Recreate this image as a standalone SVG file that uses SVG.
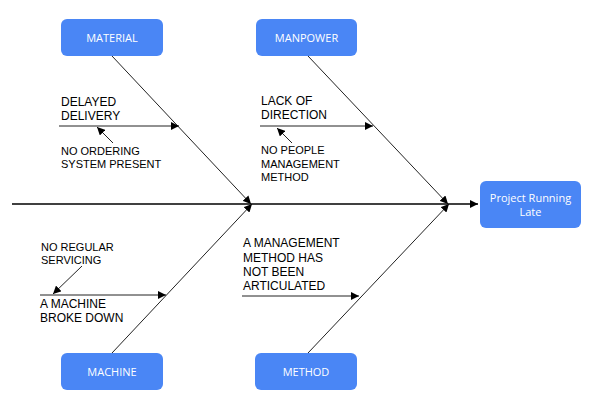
<svg xmlns="http://www.w3.org/2000/svg" width="596" height="411" viewBox="0 0 596 411">
<style>
.box{fill:#4a86f5;}
.bt{font-family:"Open Sans","Liberation Sans",sans-serif;font-size:11px;fill:#fff;text-anchor:middle;}
.t{font-family:"Liberation Sans",Arial,sans-serif;font-size:12px;fill:#000;}
.s{font-family:"Liberation Sans",Arial,sans-serif;font-size:11px;fill:#000;}
.ln{stroke:#222;stroke-width:1;fill:none;}
.sp{stroke:#000;stroke-width:1.3;fill:none;}
</style>
<defs>
<marker id="ah" viewBox="0 0 10 10" refX="10" refY="5" markerWidth="8" markerHeight="8" markerUnits="userSpaceOnUse" orient="auto">
<path d="M0,0 L10,5 L0,10 z" fill="#000"/>
</marker>
</defs>
<rect width="596" height="411" fill="#fff"/>
<g id="connectors">
<line class="sp" x1="12" y1="204" x2="478" y2="204" marker-end="url(#ah)"/>
<line class="ln" x1="112" y1="56" x2="251" y2="204" marker-end="url(#ah)"/>
<line class="ln" x1="308" y1="56" x2="448" y2="204" marker-end="url(#ah)"/>
<line class="ln" x1="112" y1="353" x2="252" y2="204" marker-end="url(#ah)"/>
<line class="ln" x1="308" y1="353" x2="449" y2="204" marker-end="url(#ah)"/>
<line class="ln" x1="59" y1="126" x2="179" y2="126" marker-end="url(#ah)"/>
<line class="ln" x1="113" y1="143" x2="97" y2="127" marker-end="url(#ah)"/>
<line class="ln" x1="260" y1="126" x2="373" y2="126" marker-end="url(#ah)"/>
<line class="ln" x1="292" y1="143" x2="277" y2="128" marker-end="url(#ah)"/>
<line class="ln" x1="40" y1="295" x2="166" y2="295" marker-end="url(#ah)"/>
<line class="ln" x1="82" y1="266" x2="53" y2="294" marker-end="url(#ah)"/>
<line class="ln" x1="242" y1="296" x2="359" y2="296" marker-end="url(#ah)"/>
</g>
<g id="material"><rect class="box" x="61" y="19" width="102" height="37" rx="6"/><text class="bt" x="112" y="42">MATERIAL</text></g>
<g id="manpower"><rect class="box" x="256" y="19" width="101" height="37" rx="6"/><text class="bt" x="306.5" y="42">MANPOWER</text></g>
<g id="machine"><rect class="box" x="61" y="353" width="102" height="37" rx="6"/><text class="bt" x="112" y="376">MACHINE</text></g>
<g id="method"><rect class="box" x="255" y="353" width="102" height="37" rx="6"/><text class="bt" x="306" y="376">METHOD</text></g>
<g id="effect"><rect class="box" x="480" y="181" width="101" height="47" rx="6"/><text class="bt" x="530.5" y="202">Project Running</text><text class="bt" x="530.5" y="216">Late</text></g>
<g id="labels">
<text class="t" x="61" y="106">DELAYED</text>
<text class="t" x="61" y="120">DELIVERY</text>
<text class="s" x="61" y="155">NO ORDERING</text>
<text class="s" x="61" y="168">SYSTEM PRESENT</text>
<text class="t" x="261" y="105">LACK OF</text>
<text class="t" x="261" y="119">DIRECTION</text>
<text class="s" x="261" y="154">NO PEOPLE</text>
<text class="s" x="261" y="167.5">MANAGEMENT</text>
<text class="s" x="261" y="181">METHOD</text>
<text class="s" x="41" y="251">NO REGULAR</text>
<text class="s" x="41" y="264">SERVICING</text>
<text class="t" x="40" y="308">A MACHINE</text>
<text class="t" x="40" y="322">BROKE DOWN</text>
<text class="t" x="243" y="247">A MANAGEMENT</text>
<text class="t" x="243" y="262">METHOD HAS</text>
<text class="t" x="243" y="276">NOT BEEN</text>
<text class="t" x="243" y="290">ARTICULATED</text>
</g>
</svg>
